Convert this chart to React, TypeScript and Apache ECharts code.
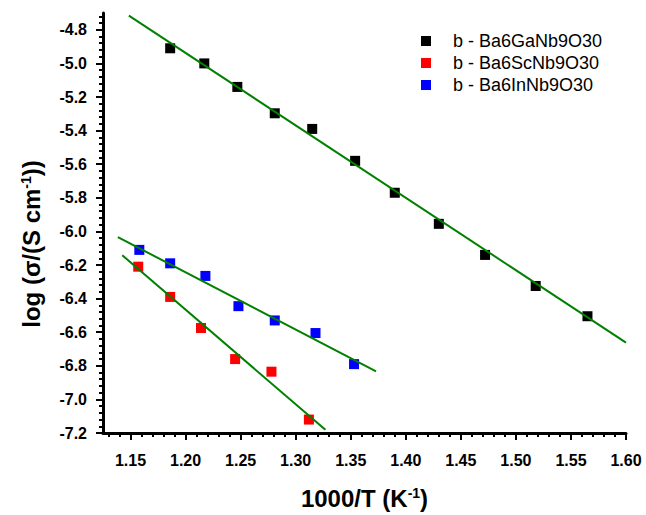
import { useEffect, useRef } from "react";
import * as echarts from "echarts";

// Ba6GaNb9O30 (black)
const gaX = [1.186, 1.217, 1.247, 1.281, 1.315, 1.354, 1.39, 1.43, 1.472, 1.518, 1.565];
const gaY = [-4.91, -5.0, -5.14, -5.297, -5.39, -5.58, -5.77, -5.955, -6.14, -6.325, -6.505];
// Ba6ScNb9O30 (red)
const scX = [1.157, 1.186, 1.214, 1.245, 1.278, 1.312];
const scY = [-6.21, -6.39, -6.575, -6.76, -6.835, -7.12];
// Ba6InNb9O30 (blue)
const inX = [1.158, 1.186, 1.218, 1.248, 1.281, 1.318, 1.353];
const inY = [-6.11, -6.19, -6.265, -6.445, -6.53, -6.605, -6.79];

// linear fit lines (endpoints)
const gaFitX = [1.1485, 1.6];
const gaFitY = [-4.716, -6.662];
const scFitX = [1.1425, 1.327];
const scFitY = [-6.142, -7.181];
const inFitX = [1.1385, 1.373];
const inFitY = [-6.034, -6.833];

const seriesNames = ["b - Ba6GaNb9O30", "b - Ba6ScNb9O30", "b - Ba6InNb9O30"];
const seriesColors = ["#000000", "#ff0000", "#0000ff"];
const fitColor = "#008000";

const xMajorTicks = [1.15, 1.2, 1.25, 1.3, 1.35, 1.4, 1.45, 1.5, 1.55, 1.6];
const yMajorTicks = [-7.2, -7.0, -6.8, -6.6, -6.4, -6.2, -6.0, -5.8, -5.6, -5.4, -5.2, -5.0, -4.8];

const xTitle = "1000/T (K{sup|-1})";
const yTitle = "log (σ/(S cm{sup|-1}))";

const X_MIN = 1.125;
const X_MAX = 1.6;
const Y_MIN = -7.2;
const Y_MAX = -4.7;

function minorTicks(from: number, to: number, step: number, majors: number[]): number[] {
  const out: number[] = [];
  const n = Math.round((to - from) / step);
  for (let i = 0; i <= n; i++) {
    const v = Math.round((from + i * step) * 1000) / 1000;
    if (!majors.some((m) => Math.abs(m - v) < 1e-6)) out.push(v);
  }
  return out;
}

const xMinorTicks = minorTicks(1.13, 1.6, 0.01, xMajorTicks);
const yMinorTicks = minorTicks(-7.2, -4.72, 0.04, yMajorTicks);

const zip = (xs: number[], ys: number[]) => xs.map((x, i) => [x, ys[i]]);

const FONT = "Arial, 'Liberation Sans', sans-serif";

export default function App() {
  const ref = useRef<HTMLDivElement>(null);
  useEffect(() => {
    if (!ref.current) return;
    const chart = echarts.init(ref.current, null, { renderer: "svg" });
    const axisLine = { show: true, lineStyle: { color: "#000", width: 3 } };
    const supStyle = { fontFamily: FONT, fontSize: 14, fontWeight: "bold", color: "#000", verticalAlign: "top" };
    const scatter = (i: number, xs: number[], ys: number[]) => ({
      name: seriesNames[i],
      type: "scatter",
      symbol: "rect",
      symbolSize: 10,
      itemStyle: { color: seriesColors[i], opacity: 1 },
      data: zip(xs, ys),
      z: 2,
    });
    const fit = (name: string, xs: number[], ys: number[]) => ({
      name,
      type: "line",
      showSymbol: false,
      symbol: "none",
      lineStyle: { color: fitColor, width: 2 },
      data: zip(xs, ys),
      z: 3,
    });
    chart.setOption({
      animation: false,
      backgroundColor: "#fff",
      textStyle: { fontFamily: FONT },
      grid: { left: 103, right: 20, top: 13, bottom: 78 },
      legend: {
        data: seriesNames,
        orient: "vertical",
        left: 416,
        top: 27,
        icon: "rect",
        itemWidth: 10,
        itemHeight: 10,
        itemGap: 4,
        textStyle: {
          fontFamily: FONT,
          fontSize: 18,
          lineHeight: 18,
          color: "#000",
          padding: [0, 0, 0, 17],
        },
      },
      graphic: [
        {
          type: "text",
          x: 31,
          y: 244,
          rotation: Math.PI / 2,
          style: {
            text: yTitle,
            fontFamily: FONT,
            fontSize: 24,
            fontWeight: "bold",
            fill: "#000",
            align: "center",
            verticalAlign: "middle",
            rich: { sup: { fontFamily: FONT, fontSize: 14, fontWeight: "bold", fill: "#000", verticalAlign: "top" } },
          },
        },
      ],
      xAxis: [
        {
          type: "value",
          min: X_MIN,
          max: X_MAX,
          position: "bottom",
          axisLine,
          splitLine: { show: false },
          axisTick: { show: true, customValues: xMajorTicks, length: 7, lineStyle: { color: "#000", width: 2 } },
          axisLabel: {
            customValues: xMajorTicks,
            formatter: (v: number) => v.toFixed(2),
            fontFamily: FONT,
            fontSize: 16,
            fontWeight: "bold",
            color: "#000",
            margin: 19,
          },
          name: xTitle,
          nameLocation: "middle",
          nameGap: 53,
          nameTextStyle: {
            fontFamily: FONT,
            fontSize: 24,
            fontWeight: "bold",
            color: "#000",
            rich: { sup: supStyle },
          },
        },
        {
          type: "value",
          min: X_MIN,
          max: X_MAX,
          position: "bottom",
          axisLine: { show: false },
          splitLine: { show: false },
          axisTick: { show: true, customValues: xMinorTicks, length: 4, lineStyle: { color: "#000", width: 2 } },
          axisLabel: { show: false },
        },
      ],
      yAxis: [
        {
          type: "value",
          min: Y_MIN,
          max: Y_MAX,
          position: "left",
          axisLine,
          splitLine: { show: false },
          axisTick: { show: true, customValues: yMajorTicks, length: 7, lineStyle: { color: "#000", width: 2 } },
          axisLabel: {
            customValues: yMajorTicks,
            formatter: (v: number) => v.toFixed(1),
            fontFamily: FONT,
            fontSize: 16,
            fontWeight: "bold",
            color: "#000",
            margin: 16,
          },
        },
        {
          type: "value",
          min: Y_MIN,
          max: Y_MAX,
          position: "left",
          axisLine: { show: false },
          splitLine: { show: false },
          axisTick: { show: true, customValues: yMinorTicks, length: 4, lineStyle: { color: "#000", width: 2 } },
          axisLabel: { show: false },
        },
      ],
      series: [
        scatter(0, gaX, gaY),
        scatter(1, scX, scY),
        scatter(2, inX, inY),
        fit("fit Ga", gaFitX, gaFitY),
        fit("fit Sc", scFitX, scFitY),
        fit("fit In", inFitX, inFitY),
      ],
    });
    return () => chart.dispose();
  }, []);
  return (
    <div
      ref={ref}
      style={{ position: "fixed", left: 0, top: 0, width: 646, height: 515, background: "#fff" }}
    />
  );
}
